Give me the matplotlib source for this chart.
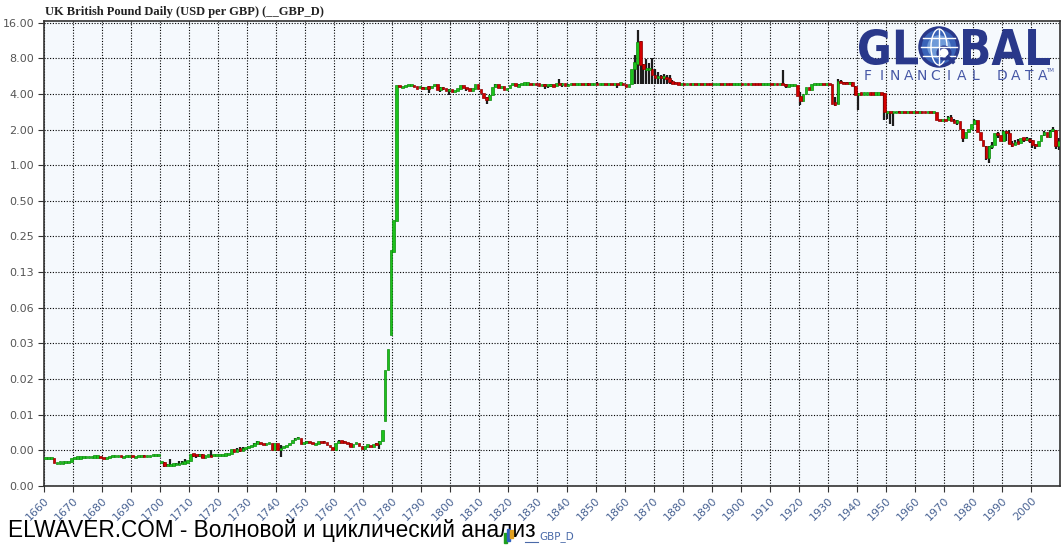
import numpy as np
import matplotlib
matplotlib.use("Agg")
import matplotlib.pyplot as plt
from matplotlib.textpath import TextPath
from matplotlib.patches import PathPatch, Circle, Ellipse, Rectangle
from matplotlib.font_manager import FontProperties
from matplotlib.transforms import Affine2D

# yearly candles, 1660 .. 2009
years = list(range(1660, 2010))

opens = [
    .00338, .00338, .00338, .00338, .00306, .00309, .00309, .00309, .00312, .00312,  # 1660
    .00338, .00340, .00340, .00341, .00342, .00344, .00344, .00346, .00346, .00347,  # 1670
    .00338, .00331, .00344, .00347, .00348, .00348, .00351, .00344, .00347, .00351,  # 1680
    .00351, .00344, .00347, .00351, .00351, .00347, .00351, .00354, .00356, .00358,  # 1690
    .00311, .00311, .00289, .00295, .00295, .00297, .00300, .00303, .00306, .00312,  # 1700
    .00318, .00362, .00358, .00354, .00362, .00338, .00354, .00354, .00351, .00358,  # 1710
    .00358, .00359, .00360, .00361, .00363, .00402, .00379, .00402, .00394, .00402,  # 1720
    .00410, .00422, .00428, .00450, .00461, .00443, .00435, .00449, .00450, .00394,  # 1730
    .00450, .00394, .00410, .00418, .00435, .00452, .00479, .00493, .00498, .00443,  # 1740
    .00461, .00461, .00458, .00440, .00449, .00461, .00458, .00456, .00435, .00413,  # 1750
    .00394, .00450, .00466, .00461, .00456, .00452, .00420, .00443, .00452, .00428,  # 1760
    .00402, .00426, .00431, .00420, .00443, .00440, .00464, .00696, .0186, .0368,    # 1770
    .184, .340, 4.72, 4.58, 4.58, 4.72, 4.78, 4.78, 4.56, 4.51,                      # 1780
    4.58, 4.42, 4.56, 4.51, 4.67, 4.81, 4.34, 4.56, 4.45, 4.22,                      # 1790
    4.36, 4.14, 4.28, 4.42, 4.72, 4.51, 4.42, 4.28, 4.42, 4.88,                      # 1800
    4.42, 4.06, 3.72, 3.58, 3.88, 4.56, 4.81, 4.51, 4.62, 4.28,                      # 1810
    4.51, 4.72, 4.93, 4.62, 4.81, 4.88, 4.90, 4.90, 4.86, 4.88,                      # 1820
    4.86, 4.75, 4.81, 4.72, 4.75, 4.81, 4.62, 4.90, 4.81, 4.90,                      # 1830
    4.72, 4.81, 4.84, 4.81, 4.84, 4.86, 4.81, 4.84, 4.81, 4.84,                      # 1840
    4.86, 4.84, 4.86, 4.88, 4.86, 4.88, 4.86, 4.88, 4.86, 4.93,                      # 1850
    4.78, 4.62, 4.81, 6.52, 7.18, 11.1, 7.18, 6.52, 6.52, 6.52,                      # 1860
    5.73, 5.51, 5.62, 5.51, 5.57, 5.40, 5.03, 4.95, 4.90, 4.88,                      # 1870
    4.88, 4.87, 4.88, 4.87, 4.88, 4.86, 4.88, 4.87, 4.88, 4.86,                      # 1880
    4.83, 4.86, 4.87, 4.88, 4.87, 4.88, 4.86, 4.83, 4.86, 4.87,                      # 1890
    4.88, 4.87, 4.88, 4.87, 4.88, 4.87, 4.86, 4.83, 4.86, 4.87,                      # 1900
    4.88, 4.86, 4.87, 4.86, 4.87, 4.86, 4.67, 4.76, 4.76, 4.76,                      # 1910
    3.81, 3.48, 4.02, 4.61, 4.28, 4.81, 4.86, 4.86, 4.88, 4.86,                      # 1920
    4.87, 4.86, 3.37, 3.28, 5.13, 4.94, 4.93, 4.91, 5.00, 4.67,                      # 1930
    3.95, 4.03, 4.02, 4.03, 4.04, 4.03, 4.02, 4.03, 4.04, 4.03,                      # 1940
    2.81, 2.81, 2.79, 2.80, 2.81, 2.79, 2.80, 2.79, 2.81, 2.80,                      # 1950
    2.81, 2.80, 2.81, 2.80, 2.79, 2.80, 2.79, 2.80, 2.40, 2.39,                      # 1960
    2.40, 2.39, 2.55, 2.35, 2.32, 2.35, 2.02, 1.70, 1.91, 2.04,                      # 1970
    2.22, 2.39, 1.91, 1.62, 1.45, 1.16, 1.44, 1.47, 1.88, 1.81,                      # 1980
    1.61, 1.93, 1.87, 1.51, 1.48, 1.56, 1.55, 1.71, 1.65, 1.66,                      # 1990
    1.62, 1.49, 1.45, 1.61, 1.79, 1.92, 1.72, 1.96, 1.98, 1.46,                      # 2000
]

closes = [
    .00338, .00338, .00338, .00306, .00309, .00309, .00309, .00312, .00312, .00338,  # 1660
    .00340, .00340, .00341, .00342, .00344, .00344, .00346, .00346, .00347, .00338,  # 1670
    .00331, .00344, .00347, .00348, .00348, .00351, .00344, .00347, .00351, .00351,  # 1680
    .00344, .00347, .00351, .00351, .00347, .00351, .00354, .00356, .00358, .00360,  # 1690
    .00311, .00289, .00295, .00295, .00297, .00300, .00303, .00306, .00312, .00318,  # 1700
    .00362, .00358, .00354, .00362, .00338, .00354, .00354, .00351, .00358, .00358,  # 1710
    .00359, .00360, .00361, .00363, .00402, .00379, .00402, .00394, .00402, .00410,  # 1720
    .00422, .00428, .00450, .00461, .00443, .00435, .00449, .00450, .00394, .00450,  # 1730
    .00394, .00410, .00418, .00435, .00452, .00479, .00493, .00498, .00443, .00461,  # 1740
    .00461, .00458, .00440, .00449, .00461, .00458, .00456, .00435, .00413, .00394,  # 1750
    .00450, .00466, .00461, .00456, .00452, .00420, .00443, .00452, .00428, .00402,  # 1760
    .00426, .00431, .00420, .00443, .00440, .00464, .00582, .0186, .0279, .194,      # 1770
    .347, 4.72, 4.58, 4.58, 4.72, 4.78, 4.78, 4.56, 4.51, 4.58,                      # 1780
    4.42, 4.56, 4.51, 4.67, 4.81, 4.34, 4.56, 4.45, 4.22, 4.36,                      # 1790
    4.14, 4.28, 4.42, 4.72, 4.51, 4.42, 4.28, 4.42, 4.88, 4.42,                      # 1800
    4.06, 3.72, 3.58, 3.88, 4.56, 4.81, 4.51, 4.62, 4.28, 4.51,                      # 1810
    4.72, 4.93, 4.62, 4.81, 4.88, 4.90, 4.90, 4.86, 4.88, 4.86,                      # 1820
    4.75, 4.81, 4.72, 4.75, 4.81, 4.62, 4.90, 4.81, 4.90, 4.72,                      # 1830
    4.81, 4.84, 4.81, 4.84, 4.86, 4.81, 4.84, 4.81, 4.84, 4.86,                      # 1840
    4.84, 4.86, 4.88, 4.86, 4.88, 4.86, 4.88, 4.86, 4.93, 4.78,                      # 1850
    4.62, 4.81, 6.52, 7.40, 10.9, 6.95, 6.52, 6.52, 6.52, 5.73,                      # 1860
    5.51, 5.62, 5.51, 5.57, 5.40, 5.03, 4.95, 4.90, 4.88, 4.88,                      # 1870
    4.87, 4.88, 4.87, 4.88, 4.86, 4.88, 4.87, 4.88, 4.86, 4.83,                      # 1880
    4.86, 4.87, 4.88, 4.87, 4.88, 4.86, 4.83, 4.86, 4.87, 4.88,                      # 1890
    4.87, 4.88, 4.87, 4.88, 4.87, 4.86, 4.83, 4.86, 4.87, 4.88,                      # 1900
    4.86, 4.87, 4.86, 4.87, 4.86, 4.67, 4.76, 4.76, 4.76, 3.81,                      # 1910
    3.48, 4.02, 4.61, 4.28, 4.81, 4.86, 4.86, 4.88, 4.86, 4.87,                      # 1920
    4.86, 3.31, 3.28, 5.13, 4.94, 4.93, 4.91, 5.00, 4.67, 3.95,                      # 1930
    4.03, 4.02, 4.03, 4.04, 4.03, 4.02, 4.03, 4.04, 4.03, 2.81,                      # 1940
    2.81, 2.79, 2.80, 2.81, 2.79, 2.80, 2.79, 2.81, 2.80, 2.81,                      # 1950
    2.80, 2.81, 2.80, 2.79, 2.80, 2.79, 2.80, 2.40, 2.39, 2.40,                      # 1960
    2.39, 2.55, 2.35, 2.32, 2.35, 2.02, 1.70, 1.91, 2.04, 2.22,                      # 1970
    2.39, 1.91, 1.62, 1.45, 1.16, 1.44, 1.47, 1.88, 1.81, 1.61,                      # 1980
    1.93, 1.87, 1.51, 1.48, 1.56, 1.55, 1.71, 1.65, 1.66, 1.62,                      # 1990
    1.49, 1.45, 1.61, 1.79, 1.92, 1.72, 1.96, 1.98, 1.46, 1.61,                      # 2000
]

# years whose wicks stick out beyond the body
wick_years = [1694, 1701, 1702, 1703, 1705, 1706, 1707, 1708, 1711, 1712, 1713, 1714, 1717,
              1726, 1727, 1728, 1732, 1733, 1741, 1746, 1747, 1750, 1756, 1761, 1763, 1765,
              1774, 1775, 1790, 1792, 1796, 1797, 1799, 1805, 1812, 1815, 1823, 1832, 1833,
              1834, 1837, 1838, 1840, 1847, 1850, 1857, 1860, 1863, 1864, 1865, 1866, 1867,
              1868, 1869, 1870, 1871, 1872, 1873, 1874, 1875, 1876, 1877, 1890, 1893, 1898,
              1903, 1912, 1914, 1915, 1920, 1932, 1933, 1934, 1935, 1936, 1937, 1938, 1939,
              1940, 1949, 1950, 1951, 1952, 1953, 1954, 1971, 1972, 1973, 1974, 1976, 1980,
              1984, 1985, 1986, 1988, 1990, 1991, 1992, 1993, 1994, 1995, 1997, 1998, 1999,
              2000, 2001, 2004, 2006, 2007, 2008, 2009]
wick_highs = [.00354, .00311, .00300, .00333, .00306, .00320, .00318, .00330, .00365, .00358,
              .00365, .00362, .00394, .00412, .00420, .00418, .00455, .00464, .00435, .00500,
              .00503, .00464, .00472, .00479, .00470, .00452, .00450, .00464, 4.58, 4.62,
              4.56, 4.56, 4.42, 4.51, 3.76, 4.88, 4.81, 4.81, 4.75, 4.81, 5.37, 4.90, 4.81,
              4.93, 5.03, 4.88, 4.78, 8.44, 13.9, 11.1, 7.18, 7.91, 7.25, 8.10, 6.52, 6.10,
              5.73, 5.92, 5.73, 5.73, 5.27, 5.00, 4.86, 4.88, 4.87, 4.88, 4.87, 6.31, 4.86,
              4.14, 3.80, 5.37, 5.20, 5.00, 5.03, 5.00, 5.00, 4.67, 4.06, 4.03, 2.81, 2.81,
              2.80, 2.81, 2.84, 2.60, 2.65, 2.47, 2.40, 2.02, 2.45, 1.45, 1.44, 1.56, 1.90,
              1.98, 1.93, 2.00, 1.59, 1.64, 1.65, 1.70, 1.72, 1.68, 1.62, 1.51, 1.95, 1.98,
              2.11, 1.98, 1.70]
wick_lows = [.00341, .00285, .00289, .00289, .00295, .00295, .00300, .00300, .00346, .00335,
             .00346, .00335, .00346, .00379, .00381, .00387, .00428, .00441, .00343, .00479,
             .00493, .00458, .00456, .00450, .00456, .00418, .00435, .00402, 4.36, 4.06,
             4.14, 4.28, 3.88, 4.22, 3.31, 4.56, 4.62, 4.42, 4.51, 4.56, 4.72, 4.56, 4.62,
             4.62, 4.84, 4.45, 4.56, 4.88, 4.88, 4.88, 4.88, 4.88, 4.88, 4.88, 4.88, 4.88,
             4.81, 4.81, 4.88, 4.88, 4.88, 4.88, 4.78, 4.81, 4.81, 4.81, 4.81, 4.81, 4.51,
             3.20, 3.14, 3.28, 4.94, 4.81, 4.81, 4.88, 4.62, 3.88, 2.90, 2.39, 2.47, 2.21,
             2.13, 2.74, 2.74, 2.39, 2.35, 2.30, 2.17, 1.56, 2.22, 1.10, 1.05, 1.38, 1.68,
             1.61, 1.60, 1.50, 1.42, 1.48, 1.53, 1.58, 1.61, 1.55, 1.40, 1.37, 1.76, 1.71,
             1.92, 1.36, 1.35]

ytick_values = [2.0 ** k for k in range(-9, 5)]
ytick_labels = ["0.00", "0.00", "0.01", "0.02", "0.03", "0.06", "0.13", "0.25",
                "0.50", "1.00", "2.00", "4.00", "8.00", "16.00"]
xtick_years = list(range(1660, 2001, 10))

title = "UK British Pound Daily (USD per GBP) (__GBP_D)"
footer = "ELWAVER.COM - Волновой и циклический анализ"
legend_label = "GBP_D"

W, H = 1061, 560
fig = plt.figure(figsize=(W / 100, H / 100), dpi=100)
ax = fig.add_axes([44 / W, 74 / H, 1016 / W, 465 / H])
ax.set_facecolor("#f5f9fd")
ax.set_yscale("log", base=2)
ax.set_ylim(2.0 ** -9, 16.5)
ax.set_xlim(1660, 2010)

# candles
x = np.array(years) + 0.5
o = np.array(opens)
c = np.array(closes)
lo_b = np.minimum(o, c)
hi_b = np.maximum(o, c)
thin = hi_b / lo_b < 1.045
mid = np.sqrt(lo_b * hi_b)
lo_b = np.where(thin, mid / 1.022, lo_b)
hi_b = np.where(thin, mid * 1.022, hi_b)
up = c >= o

wx = np.array(wick_years) + 0.5
ax.vlines(wx, wick_lows, wick_highs, color="#1c1c1c", lw=1.6, zorder=2)

ax.bar(x[up], hi_b[up] - lo_b[up], bottom=lo_b[up], width=0.92,
       color="#1cc21c", edgecolor="#0a8a0a", lw=0.5, zorder=3)
ax.bar(x[~up], hi_b[~up] - lo_b[~up], bottom=lo_b[~up], width=0.92,
       color="#d40000", edgecolor="#8c0000", lw=0.5, zorder=3)

# axes styling
ax.set_axisbelow(True)
ax.grid(True, which="major", color="black", linestyle=(0, (1, 1.5)), lw=0.8)
ax.minorticks_off()
ax.set_yticks(ytick_values)
ax.set_yticklabels(ytick_labels)
ax.set_xticks(xtick_years)
ax.set_xticklabels([str(y) for y in xtick_years], rotation=45, ha="right",
                   va="top", rotation_mode="anchor")
ax.tick_params(axis="both", direction="out", length=4, width=0.8, color="#333333",
               labelsize=8)
ax.tick_params(axis="y", labelcolor="#555555", pad=3)
ax.tick_params(axis="x", labelcolor="#4a6494", pad=3)
ax.minorticks_off()
for s in ax.spines.values():
    s.set_color("#333333")
    s.set_linewidth(1.2)

fig.text(45 / W, 1 - 12 / H, title, family="Liberation Serif", weight="bold",
         fontsize=9, va="center", ha="left", color="#222222")
fig.text(8 / W, 1 - 530 / H, footer, family="Liberation Sans", fontsize=16.3,
         va="center", ha="left", color="black")

# overlay in pixel coords (y from bottom) for logo and legend
ov = fig.add_axes([0, 0, 1, 1], zorder=5)
ov.set_xlim(0, W)
ov.set_ylim(0, H)
ov.axis("off")


def path_text(txt, x0, x1, ytop, ybot, color, weight="bold"):
    prop = FontProperties(family="DejaVu Sans", weight=weight)
    tp = TextPath((0, 0), txt, size=100, prop=prop)
    ext = tp.get_extents()
    tr = (Affine2D().translate(-ext.x0, -ext.y0)
          .scale((x1 - x0) / ext.width, (ybot - ytop) / ext.height)
          .translate(x0, H - ybot))
    ov.add_patch(PathPatch(tr.transform_path(tp), color=color, lw=0))


navy = "#29388a"
path_text("GL", 859, 918, 29, 65, navy)
path_text("BAL", 963, 1050, 29, 65, navy)

# globe for the O
gx, gy, r = 939, H - 47, 19
ov.add_patch(Circle((gx, gy), r, facecolor="#3a63b8", edgecolor=navy, lw=2.5))
ov.add_patch(Circle((gx, gy), r * 0.62, facecolor="#6f9ad8", edgecolor="none"))
for dy in (-9, 0, 9):
    half = np.sqrt(max(r * r - dy * dy, 0)) - 1
    ov.plot([gx - half, gx + half], [gy + dy, gy + dy], color="white", lw=1.0)
ov.add_patch(Ellipse((gx, gy), 16, 2 * r - 2, fill=False, edgecolor="white", lw=1.0))
ov.plot([gx, gx], [gy - r + 1, gy + r - 1], color="white", lw=1.0)
ov.add_patch(Circle((gx + 5, gy - 6), 6, facecolor="white", edgecolor=navy, lw=2.2))
ov.plot([gx + 9, gx + 14], [gy - 10, gy - 15], color=navy, lw=2.5)

letters = "FINANCIAL DATA"
for i, ch in enumerate(letters):
    ov.text(868 + i * 13.4, H - 76, ch, family="DejaVu Sans", fontsize=10,
            color="#4657a6", ha="center", va="center")
ov.text(1050, H - 70, "TM", family="DejaVu Sans", fontsize=4, color="#4657a6",
        ha="center", va="center")

# legend entry (its leading underscores sit under the footer text)
ov.add_patch(Rectangle((504, H - 543), 3, 10, color="#1fa01f"))
ov.add_patch(Rectangle((507, H - 541), 3, 12, color="#3060c0"))
ov.add_patch(Rectangle((510, H - 538), 3, 8, color="#e0a020"))
ov.plot([525, 538], [H - 542, H - 542], color="#4a6aa8", lw=0.8)
ov.text(539, H - 537, legend_label, family="DejaVu Sans", fontsize=7.5,
        color="#4a6aa8", ha="left", va="center")

fig.savefig("out.png", dpi=100)
